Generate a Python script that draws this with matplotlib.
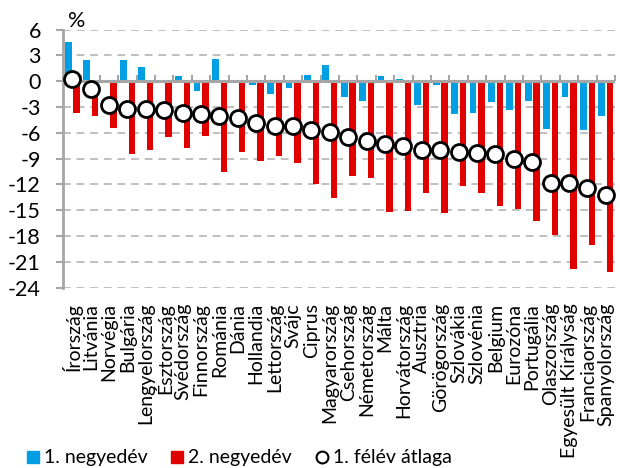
import matplotlib
matplotlib.use("Agg")
import matplotlib.pyplot as plt
from matplotlib.lines import Line2D
import numpy as np

plt.rcParams['font.family'] = ['Lato', 'DejaVu Sans']

countries = ["Írország", "Litvánia", "Norvégia", "Bulgária", "Lengyelország", "Észtország",
             "Svédország", "Finnország", "Románia", "Dánia", "Hollandia", "Lettország",
             "Svájc", "Ciprus", "Magyarország", "Csehország", "Németország", "Málta",
             "Horvátország", "Ausztria", "Görögország", "Szlovákia", "Szlovénia", "Belgium",
             "Eurozóna", "Portugália", "Olaszország", "Egyesült Királyság", "Franciaország",
             "Spanyolország"]
q1 = [4.5, 2.4, 0.0, 2.4, 1.7, -0.1, 0.6, -1.2, 2.6, -0.1, -0.4, -1.5, -0.8, 0.7, 1.9,
      -1.9, -2.3, 0.6, 0.2, -2.8, -0.5, -3.8, -3.7, -2.4, -3.3, -2.3, -5.6, -1.8, -5.7, -4.1]
q2 = [-3.7, -4.0, -5.4, -8.5, -8.0, -6.5, -7.8, -6.4, -10.6, -8.2, -9.3, -8.7, -9.5, -12.0,
      -13.6, -11.0, -11.3, -15.2, -15.1, -13.0, -15.3, -12.2, -13.0, -14.5, -14.8, -16.3,
      -17.9, -21.8, -19.0, -22.2]
avg = [0.3, -0.9, -2.8, -3.2, -3.2, -3.4, -3.7, -3.85, -4.0, -4.3, -4.9, -5.2, -5.2, -5.7,
       -5.9, -6.5, -6.9, -7.3, -7.5, -7.95, -8.0, -8.2, -8.4, -8.5, -9.1, -9.4, -11.8,
       -11.85, -12.4, -13.2]
yticks = [6, 3, 0, -3, -6, -9, -12, -15, -18, -21, -24]
legend_labels = ["1. negyedév", "2. negyedév", "1. félév átlaga"]

BLUE = '#009fe3'
RED = '#e10000'
GRAY = '#a6a6a6'

fig = plt.figure(figsize=(6.2, 4.68), dpi=100)
ax = fig.add_axes([63/620, 1-287.7/468, 552/620, (287.7-29.5)/468])

x = np.arange(len(countries))
ax.bar(x - 0.22, q1, width=0.37, color=BLUE, zorder=2)
ax.bar(x + 0.24, q2, width=0.35, color=RED, zorder=2)
ax.axhline(0, color=GRAY, lw=2.2, zorder=3)
ax.plot(x, avg, ls='none', marker='o', ms=11.5, mfc='white', mec='black', mew=2.0, zorder=5)

ax.set_xlim(-0.5, len(countries) - 0.5)
ax.set_ylim(-24, 6)
ax.set_yticks(yticks)
ax.set_yticklabels([str(v) for v in yticks])
ax.yaxis.grid(True, ls=(0, (4, 3)), color='#bfbfbf', lw=1.4)
ax.set_axisbelow(True)

for s in ['top', 'right', 'bottom']:
    ax.spines[s].set_visible(False)
ax.spines['left'].set_color(GRAY)
ax.spines['left'].set_linewidth(2)
ax.tick_params(axis='y', length=5, width=1.5, color=GRAY, pad=11, labelsize=15.5)

ax.set_xticks(x)
ax.set_xticklabels(countries, rotation=90, fontsize=14)
ax.tick_params(axis='x', length=0, pad=11)

sec = ax.secondary_xaxis(24/30)
sec.set_xticks(np.arange(len(countries) + 1) - 0.5)
sec.set_xticklabels([])
sec.tick_params(axis='x', length=4, width=1.5, color=GRAY, direction='out')
for s in ['top', 'bottom', 'left', 'right']:
    sec.spines[s].set_visible(False)

fig.text(77/620, 1-21/468, "%", fontsize=15.5, ha='center', va='center')

handles = [
    Line2D([], [], ls='none', marker='s', ms=8.5, mfc=BLUE, mec=BLUE),
    Line2D([], [], ls='none', marker='s', ms=8.5, mfc=RED, mec=RED),
    Line2D([], [], ls='none', marker='o', ms=8.5, mfc='white', mec='black', mew=1.5),
]
fig.legend(handles, legend_labels, ncol=3, frameon=False, loc='center left',
           bbox_to_anchor=(26/620, 1-458/468), fontsize=14, handlelength=0.7,
           handletextpad=0.2, columnspacing=1.2, borderpad=0, borderaxespad=0)

fig.savefig("out.png", dpi=100)
